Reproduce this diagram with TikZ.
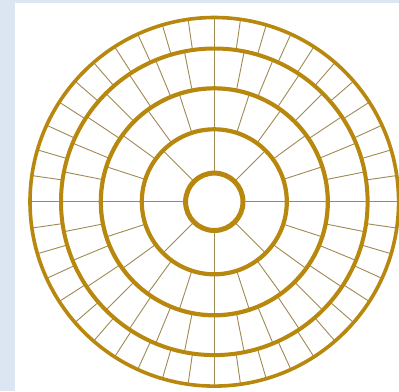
\documentclass[tikz,border=0pt]{standalone}
\definecolor{bgblue}{RGB}{220,230,242}
\definecolor{ringgold}{RGB}{184,136,14}
\definecolor{spokecol}{RGB}{160,138,84}
\tikzset{
  ring/.style={draw=ringgold},
  spoke/.style={draw=spokecol, line width=0.9pt},
}
\begin{document}
\begin{tikzpicture}[x=1pt,y=-1pt]
\useasboundingbox (0,0) rectangle (399,391);
\fill[bgblue] (0,0) rectangle (399,391);
\fill[white] (15,3) rectangle (399,391);
\begin{scope}[shift={(214.3,201.8)}]
  % spokes band 1-2 (8)
  \foreach \i in {0,...,7} {
    \draw[spoke] ({45*\i}:28.7pt) -- ({45*\i}:72.5pt);
  }
  % band 2-3 (20)
  \foreach \i in {0,...,19} {
    \draw[spoke] ({18*\i}:72.5pt) -- ({18*\i}:113.5pt);
  }
  % band 3-4 (32)
  \foreach \i in {0,...,31} {
    \draw[spoke] ({11.25*\i}:113.5pt) -- ({11.25*\i}:153.3pt);
  }
  % band 4-5 (44)
  \foreach \i in {0,...,43} {
    \draw[spoke] ({360/44*\i}:153.3pt) -- ({360/44*\i}:184.3pt);
  }
  \draw[ring, line width=5pt] (0,0) circle (28.7pt);
  \draw[ring, line width=4.2pt] (0,0) circle (72.5pt);
  \draw[ring, line width=4.2pt] (0,0) circle (113.5pt);
  \draw[ring, line width=4pt] (0,0) circle (153.3pt);
  \draw[ring, line width=3.6pt] (0,0) circle (184.3pt);
\end{scope}
\end{tikzpicture}
\end{document}
